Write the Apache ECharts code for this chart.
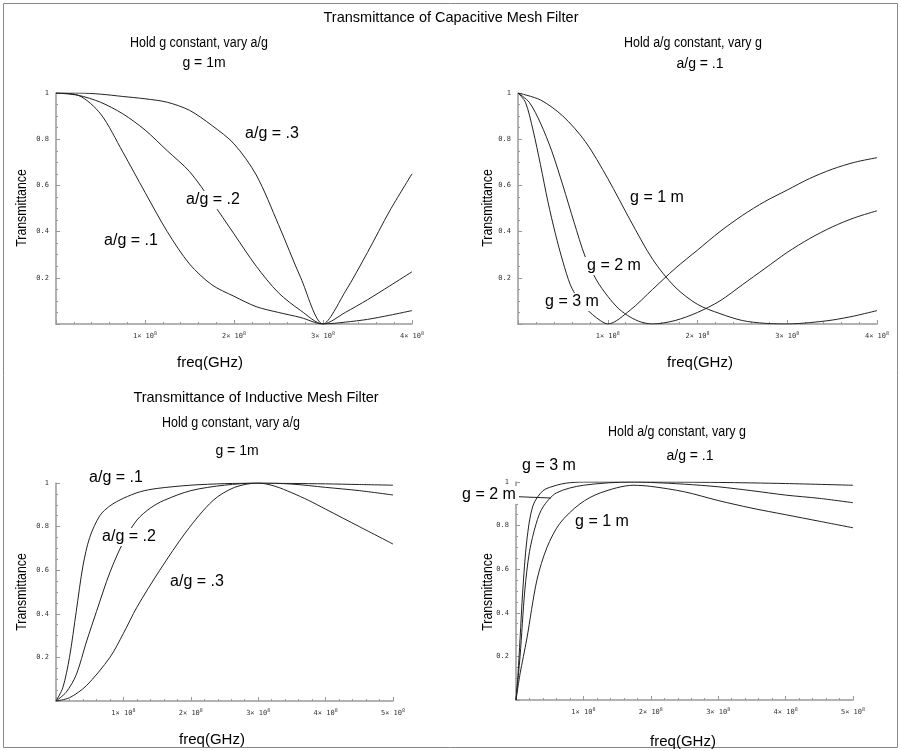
<!DOCTYPE html>
<html>
<head>
<meta charset="utf-8">
<title>Transmittance of Mesh Filters</title>
<script src="https://cdn.jsdelivr.net/npm/echarts@6/dist/echarts.min.js"></script>
<style>
  html, body { margin: 0; padding: 0; background: #fff; }
  #chart { width: 901px; height: 751px; }
</style>
</head>
<body>
<div id="chart"></div>
<script>
  // freq in units of 1e8, transmittance 0..1

  // --- capacitive mesh, hold g = 1m, vary a/g
  const capAgX = [0, 0.25, 0.5, 0.75, 1.0, 1.25, 1.5, 1.75, 2.0, 2.25, 2.5, 2.75, 3.0, 3.25, 3.5, 3.75, 4.0];
  const capAg1 = [1, 0.99, 0.91, 0.745, 0.57, 0.40, 0.26, 0.17, 0.12, 0.075, 0.05, 0.028, 0, 0.008, 0.02, 0.038, 0.058];
  const capAg2 = [1, 0.99, 0.96, 0.91, 0.84, 0.75, 0.66, 0.53, 0.39, 0.25, 0.135, 0.058, 0, 0.05, 0.105, 0.165, 0.226];
  const capAg3 = [1, 1, 0.995, 0.985, 0.975, 0.96, 0.925, 0.86, 0.78, 0.645, 0.43, 0.20, 0, 0.14, 0.31, 0.49, 0.65];

  // --- capacitive mesh, hold a/g = .1, vary g
  const capG1X = [0, 0.25, 0.5, 0.75, 1.0, 1.25, 1.5, 1.75, 2.0, 2.25, 2.5, 2.75, 3.0, 3.25, 3.5, 3.75, 4.0];
  const capG1 = [1, 0.97, 0.90, 0.79, 0.63, 0.45, 0.28, 0.16, 0.085, 0.045, 0.015, 0.003, 0, 0.006, 0.017, 0.035, 0.058];
  const capG2X = [0, 0.125, 0.25, 0.375, 0.5, 0.625, 0.75, 0.875, 1.0, 1.125, 1.25, 1.375, 1.5, 1.75, 2.0, 2.25, 2.5, 2.75, 3.0, 3.25, 3.5, 3.75, 4.0];
  const capG2 = [1, 0.96, 0.87, 0.75, 0.60, 0.44, 0.29, 0.19, 0.12, 0.065, 0.03, 0.008, 0, 0.015, 0.05, 0.10, 0.17, 0.24, 0.31, 0.37, 0.42, 0.46, 0.49];
  const capG3X = [0, 0.083, 0.167, 0.25, 0.333, 0.417, 0.5, 0.583, 0.667, 0.75, 0.833, 0.917, 1.0, 1.25, 1.5, 1.75, 2.0, 2.25, 2.5, 2.75, 3.0, 3.25, 3.5, 3.75, 4.0];
  const capG3 = [1, 0.96, 0.84, 0.69, 0.53, 0.39, 0.27, 0.17, 0.11, 0.07, 0.04, 0.015, 0, 0.06, 0.15, 0.24, 0.32, 0.40, 0.47, 0.53, 0.58, 0.63, 0.67, 0.70, 0.72];

  // --- inductive mesh, hold g = 1m, vary a/g
  const indAg1X = [0, 0.1, 0.2, 0.3, 0.4, 0.5, 0.65, 0.8, 1.0, 1.25, 1.5, 2.0, 2.5, 3.0, 3.5, 4.0, 4.5, 5.0];
  const indAg1 = [0, 0.06, 0.2, 0.41, 0.62, 0.75, 0.85, 0.895, 0.93, 0.96, 0.975, 0.99, 0.997, 1, 0.998, 0.996, 0.993, 0.99];
  const indAg2X = [0, 0.15, 0.3, 0.45, 0.6, 0.8, 1.0, 1.2, 1.4, 1.6, 2.0, 2.5, 3.0, 3.5, 4.0, 4.5, 5.0];
  const indAg2 = [0, 0.04, 0.12, 0.27, 0.41, 0.59, 0.73, 0.83, 0.885, 0.92, 0.965, 0.99, 1, 0.995, 0.98, 0.965, 0.945];
  const indAg3X = [0, 0.2, 0.45, 0.8, 1.0, 1.2, 1.54, 1.94, 2.33, 2.65, 3.0, 3.25, 3.5, 3.75, 4.0, 4.5, 5.0];
  const indAg3 = [0, 0.015, 0.07, 0.20, 0.31, 0.43, 0.60, 0.78, 0.92, 0.98, 1, 0.985, 0.955, 0.92, 0.88, 0.80, 0.72];

  // --- inductive mesh, hold a/g = .1, vary g
  const indG3X = [0, 0.03, 0.06, 0.1, 0.16, 0.25, 0.4, 0.6, 0.75, 1.0, 2.0, 3.0, 4.0, 5.0];
  const indG3 = [0, 0.12, 0.28, 0.5, 0.73, 0.89, 0.96, 0.985, 0.995, 1, 1, 0.998, 0.993, 0.985];
  const indG2X = [0, 0.06, 0.13, 0.2, 0.3, 0.4, 0.6, 1.0, 1.74, 2.0, 2.5, 3.0, 3.5, 4.0, 4.5, 5.0];
  const indG2 = [0, 0.20, 0.50, 0.68, 0.81, 0.885, 0.95, 0.985, 1, 0.998, 0.99, 0.978, 0.96, 0.94, 0.925, 0.905];
  const indG1X = [0, 0.06, 0.16, 0.31, 0.46, 0.65, 0.95, 1.25, 1.74, 2.0, 2.5, 3.0, 3.5, 4.0, 4.5, 5.0];
  const indG1 = [0, 0.12, 0.28, 0.55, 0.70, 0.81, 0.90, 0.95, 0.985, 0.98, 0.955, 0.915, 0.88, 0.85, 0.82, 0.79];

  const FONT = '"Liberation Sans", Arial, sans-serif';
  const TICKFONT = '"DejaVu Sans Mono", monospace';
  const AXIS_COLOR = '#999';

  function pairs(xs, ys) {
    return xs.map((x, i) => [x, ys[i]]);
  }

  function xAx(gridIndex, max) {
    return {
      type: 'value', gridIndex: gridIndex, min: 0, max: max, interval: 1,
      axisLine: { show: true, onZero: false, lineStyle: { color: AXIS_COLOR, width: 1.5 } },
      axisTick: { show: true, inside: true, length: 4, lineStyle: { color: AXIS_COLOR } },
      minorTick: { show: true, splitNumber: 5, length: 2, lineStyle: { color: AXIS_COLOR } },
      splitLine: { show: false },
      axisLabel: {
        margin: 7,
        formatter: v => (v === 0 ? '' : '{a|' + v + '\u00d7 10}{s|8}'),
        rich: {
          a: { fontSize: 7, fontFamily: TICKFONT, color: '#333' },
          s: { fontSize: 5, fontFamily: TICKFONT, color: '#333', verticalAlign: 'top', padding: [0, 0, 5, 0] }
        }
      }
    };
  }

  function yAx(gridIndex) {
    return {
      type: 'value', gridIndex: gridIndex, min: 0, max: 1, interval: 0.2,
      axisLine: { show: true, onZero: false, lineStyle: { color: AXIS_COLOR, width: 1.5 } },
      axisTick: { show: true, inside: true, length: 4, lineStyle: { color: AXIS_COLOR } },
      minorTick: { show: true, splitNumber: 4, length: 2, lineStyle: { color: AXIS_COLOR } },
      splitLine: { show: false },
      axisLabel: {
        margin: 7, fontSize: 7, fontFamily: TICKFONT, color: '#333',
        formatter: v => (v === 0 ? '' : (v === 1 ? '1' : v.toFixed(1)))
      }
    };
  }

  function curve(idx, xs, ys) {
    return {
      type: 'line', xAxisIndex: idx, yAxisIndex: idx,
      data: pairs(xs, ys), smooth: 0.3, showSymbol: false, symbol: 'none',
      lineStyle: { color: '#222', width: 1 }, z: 2, silent: true
    };
  }

  // sx squeezes the text sideways, the original uses a narrow face
  function txt(x, y, text, size, sx, opts) {
    return Object.assign({
      type: 'text', x: x, y: y, z: 100, scaleX: sx || 1,
      style: {
        text: text, fontSize: size || 14, fontFamily: FONT, fill: '#000',
        align: 'center', verticalAlign: 'middle'
      }
    }, opts || {});
  }

  // curve labels sit on a white box so the line breaks under them
  function lbl(x, y, text) {
    let t = txt(x, y, text, 16);
    t.style.backgroundColor = '#fff';
    t.style.padding = [1, 3];
    return t;
  }

  function yName(x, y) {
    return txt(x, y, 'Transmittance', 15, 0.82, { rotation: Math.PI / 2 });
  }

  let myChart = echarts.init(document.getElementById('chart'));

  let option = {
    backgroundColor: '#fff',
    animation: false,
    grid: [
      { left: 56, top: 93, width: 356, height: 231 },
      { left: 518, top: 93, width: 359, height: 231 },
      { left: 56, top: 483, width: 337, height: 218 },
      { left: 516, top: 482, width: 337, height: 218 }
    ],
    xAxis: [xAx(0, 4), xAx(1, 4), xAx(2, 5), xAx(3, 5)],
    yAxis: [yAx(0), yAx(1), yAx(2), yAx(3)],
    series: [
      curve(0, capAgX, capAg1),
      curve(0, capAgX, capAg2),
      curve(0, capAgX, capAg3),
      curve(1, capG1X, capG1),
      curve(1, capG2X, capG2),
      curve(1, capG3X, capG3),
      curve(2, indAg1X, indAg1),
      curve(2, indAg2X, indAg2),
      curve(2, indAg3X, indAg3),
      curve(3, indG1X, indG1),
      curve(3, indG2X, indG2),
      curve(3, indG3X, indG3)
    ],
    graphic: [
      // outer frame
      { type: 'rect', shape: { x: 3.5, y: 3.5, width: 894, height: 744 }, style: { fill: 'none', stroke: '#888', lineWidth: 1 }, z: 0 },

      txt(451, 18, 'Transmittance of Capacitive Mesh Filter', 14.5),
      txt(199, 43, 'Hold g constant, vary a/g', 14, 0.89),
      txt(204, 63, 'g = 1m', 14),
      txt(693, 43, 'Hold a/g constant, vary g', 14, 0.89),
      txt(700, 64, 'a/g = .1', 14),
      yName(22, 208),
      yName(488, 208),
      txt(210, 363, 'freq(GHz)', 15),
      txt(700, 363, 'freq(GHz)', 15),

      txt(256, 398, 'Transmittance of Inductive Mesh Filter', 14.5),
      txt(231, 423, 'Hold g constant, vary a/g', 14, 0.89),
      txt(237, 451, 'g = 1m', 14),
      txt(677, 432, 'Hold a/g constant, vary g', 14, 0.89),
      txt(690, 456, 'a/g = .1', 14),
      yName(22, 592),
      yName(488, 592),
      txt(212, 740, 'freq(GHz)', 15),
      txt(683, 742, 'freq(GHz)', 15),

      lbl(272, 134, 'a/g = .3'),
      lbl(213, 200, 'a/g = .2'),
      lbl(131, 241, 'a/g = .1'),

      lbl(657, 198, 'g = 1 m'),
      lbl(614, 266, 'g = 2 m'),
      lbl(572, 302, 'g = 3 m'),

      lbl(116, 478, 'a/g = .1'),
      lbl(129, 537, 'a/g = .2'),
      lbl(197, 582, 'a/g = .3'),

      // pointer from the "g = 2 m" label to its curve
      { type: 'line', shape: { x1: 500, y1: 496, x2: 551, y2: 498 }, style: { stroke: '#222', lineWidth: 1 }, z: 50 },
      lbl(549, 466, 'g = 3 m'),
      lbl(489, 495, 'g = 2 m'),
      lbl(602, 522, 'g = 1 m')
    ]
  };

  myChart.setOption(option);
  window.addEventListener('resize', function () { myChart.resize(); });
</script>
</body>
</html>
